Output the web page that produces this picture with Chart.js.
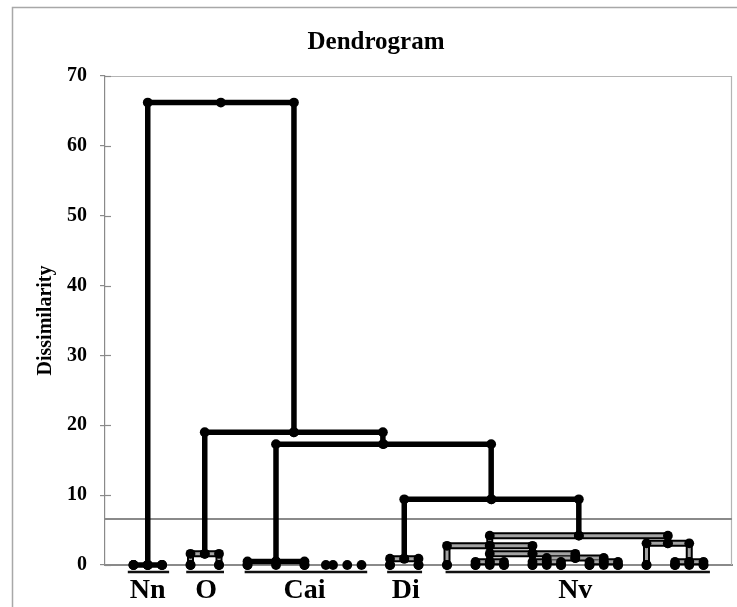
<!DOCTYPE html>
<html><head><meta charset="utf-8">
<script src="https://cdn.jsdelivr.net/npm/chart.js@4/dist/chart.umd.min.js"></script>
<style>html,body{margin:0;padding:0;background:#fff;overflow:hidden}#wrap{width:737px;height:607px;position:relative}</style>
</head><body><div id="wrap"><canvas id="c" width="737" height="607"></canvas></div>
<script>
// ---- data (x in leaf-order units, y = dissimilarity) ----
const groupNames   = ['Nn', 'O', 'Cai', 'Di', 'Nv'];
const groupCenters = [3, 7.1, 14, 21.1, 33];
const groupStarts  = [1.6, 5.7, 9.8, 19.8, 23.9];
const groupEnds    = [4.5, 8.35, 18.4, 22.25, 42.45];
const leafX = [2, 3, 4, 6, 8, 10, 12, 14, 15.5, 16, 17, 18, 20, 22,
               24, 26, 27, 28, 30, 31, 32, 34, 35, 36, 38, 40, 41, 42];
// black merges: left child x, right child x, merge height, left child height, right child height
const blackLeft   = [3,     7,    12,   21,    10,  2];
const blackRight  = [13.26, 19.5, 27.1, 33.25, 14,  4];
const blackHeight = [66.2,  19.0, 17.3, 9.4,   0.5, 0];
const blackLeftH  = [0,     1.6,  0.5,  0.9,   0,   0];
const blackRightH = [19.0,  17.3, 9.4,  4.2,   0,   0];
// grey (outlined) merges
const grayLeft    = [6,   20,  27,   24,   27,   26,   31,   30,   34,   38,  40];
const grayRight   = [8,   22,  39.5, 30,   33,   28,   35,   32,   36,   41,  42];
const grayHeight  = [1.6, 0.9, 4.2,  2.75, 1.6,  0.45, 1.0,  0.45, 0.45, 3.1, 0.45];
const grayLeftH   = [0,   0,   2.75, 0,    0.45, 0,    0.45, 0,    0,    0,   0];
const grayRightH  = [0,   0,   3.1,  1.6,  1.0,  0,    0.45, 0,    0,    0.45, 0];
const cutHeight = 6.6;
const yMin = 0, yMax = 70, yStep = 10;
const underlineLevel = -1;

function bracket(l, r, h, lh, rh) {
  return [{x: l, y: lh}, {x: l, y: h}, {x: (l + r) / 2, y: h}, {x: r, y: h}, {x: r, y: rh}];
}

const datasets = [];
const allPts = [];
// cut line
datasets.push({data: [{x: 0, y: cutHeight}, {x: 44, y: cutHeight}], borderColor: '#8a8a8a', borderWidth: 2, order: 20, pointRadius: 0});
// underlines
groupNames.forEach((g, i) => {
  datasets.push({data: [{x: groupStarts[i], y: underlineLevel}, {x: groupEnds[i], y: underlineLevel}],
    borderColor: '#111', borderWidth: 2.5, order: 15, pointRadius: 0, clip: false});
});
// grey outlined merges
grayLeft.forEach((l, i) => {
  const pts = bracket(l, grayRight[i], grayHeight[i], grayLeftH[i], grayRightH[i]);
  allPts.push(...pts);
  datasets.push({data: pts, borderColor: '#000', borderWidth: 7, order: 8, pointRadius: 0, clip: false, borderJoinStyle: 'miter'});
  datasets.push({data: pts, borderColor: '#a3a3a3', borderWidth: 3, order: 7, pointRadius: 0, clip: false, borderJoinStyle: 'miter'});
});
// black merges
blackLeft.forEach((l, i) => {
  const pts = bracket(l, blackRight[i], blackHeight[i], blackLeftH[i], blackRightH[i]);
  allPts.push(...pts);
  datasets.push({data: pts, borderColor: '#000', borderWidth: 5.5, order: 4, pointRadius: 0, clip: false, borderJoinStyle: 'miter'});
});
// leaves
leafX.forEach(x => allPts.push({x: x, y: 0}));
datasets.push({data: allPts, showLine: false, pointRadius: 4.9, pointBackgroundColor: '#000', pointBorderWidth: 0, order: 0, clip: false});

const framePlugin = {
  id: 'frame',
  beforeDraw(chart) {
    const ctx = chart.ctx;
    ctx.save();
    ctx.strokeStyle = '#a8a8a8';
    ctx.lineWidth = 1.5;
    ctx.beginPath();
    ctx.moveTo(12.5, 610); ctx.lineTo(12.5, 7.5); ctx.lineTo(740, 7.5);
    ctx.stroke();
    ctx.restore();
  },
  beforeDatasetsDraw(chart) {
    const ctx = chart.ctx, a = chart.chartArea, ys = chart.scales.y;
    ctx.save();
    ctx.strokeStyle = '#b4b4b4';
    ctx.lineWidth = 1.2;
    ctx.beginPath();
    ctx.moveTo(a.left, a.top + 0.5); ctx.lineTo(a.right - 0.5, a.top + 0.5); ctx.lineTo(a.right - 0.5, a.bottom);
    ctx.stroke();
    ctx.strokeStyle = '#8a8a8a';
    ctx.lineWidth = 1.2;
    ys.ticks.forEach(t => {
      const py = Math.round(ys.getPixelForValue(t.value)) + 0.5;
      ctx.beginPath(); ctx.moveTo(a.left, py); ctx.lineTo(a.left + 6, py); ctx.stroke();
    });
    ctx.restore();
  }
};

new Chart(document.getElementById('c'), {
  type: 'scatter',
  data: {datasets: datasets},
  plugins: [framePlugin],
  options: {
    responsive: false,
    animation: false,
    showLine: true,
    layout: {padding: {left: 20, right: 5, top: 0, bottom: 0}},
    elements: {line: {tension: 0, fill: false}},
    plugins: {
      legend: {display: false},
      tooltip: {enabled: false},
      title: {display: true, text: 'Dendrogram', color: '#000',
        font: {family: 'Liberation Serif', size: 25, weight: 'bold'},
        padding: {top: 28, bottom: 18}}
    },
    scales: {
      x: {
        type: 'linear', min: 0, max: 44,
        afterFit(s) { s.height = 42; },
        afterBuildTicks(s) { s.ticks = groupCenters.map(v => ({value: v})); },
        ticks: {
          autoSkip: false, maxRotation: 0, padding: 9, color: '#000',
          font: {family: 'Liberation Serif', size: 28, weight: 'bold'},
          callback: (v, i) => groupNames[i]
        },
        grid: {display: false, drawTicks: false},
        border: {display: true, color: '#8a8a8a', width: 2}
      },
      y: {
        type: 'linear', min: yMin, max: yMax,
        afterFit(s) { s.width = 85; },
        ticks: {stepSize: yStep, padding: 13, color: '#000',
          font: {family: 'Liberation Serif', size: 20, weight: 'bold'}},
        grid: {drawOnChartArea: false, tickLength: 5, color: '#8a8a8a', lineWidth: 1.2},
        border: {display: true, color: '#8a8a8a', width: 1.2},
        title: {display: true, text: 'Dissimilarity', color: '#000',
          font: {family: 'Liberation Serif', size: 20, weight: 'bold'},
          padding: {top: 14, bottom: 0}}
      }
    }
  }
});
</script>
</body></html>
